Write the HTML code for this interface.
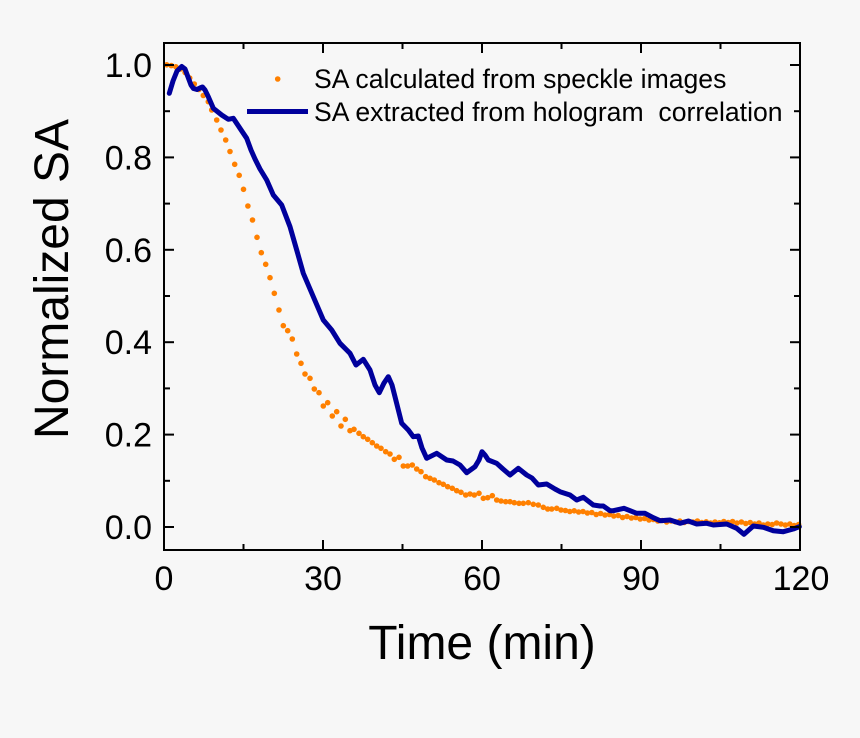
<!DOCTYPE html>
<html><head><meta charset="utf-8"><style>
html,body{margin:0;padding:0;background:#f7f7f7;}
svg{display:block;}
text{font-family:"Liberation Sans",Arial,sans-serif;fill:#000;}
</style></head><body>
<svg width="860" height="738" viewBox="0 0 860 738" xmlns="http://www.w3.org/2000/svg">
<rect x="0" y="0" width="860" height="738" fill="#f7f7f7"/>
<!-- orange dots -->
<g fill="#ff8000">
<circle cx="166.7" cy="64.8" r="2.8"/><circle cx="171.3" cy="65.6" r="2.8"/><circle cx="175.9" cy="66.8" r="2.8"/><circle cx="180.5" cy="69" r="2.8"/><circle cx="185.1" cy="72.5" r="2.8"/><circle cx="189.7" cy="78" r="2.8"/><circle cx="194.3" cy="84" r="2.8"/><circle cx="198.8" cy="89.5" r="2.8"/><circle cx="203.3" cy="95.5" r="2.8"/><circle cx="208.3" cy="101.7" r="2.8"/><circle cx="211.7" cy="110" r="2.8"/><circle cx="216.7" cy="120" r="2.8"/><circle cx="221" cy="130" r="2.8"/><circle cx="225.7" cy="140" r="2.8"/><circle cx="230" cy="151.5" r="2.8"/><circle cx="234.7" cy="164.3" r="2.8"/><circle cx="239.2" cy="175.3" r="2.8"/><circle cx="243.5" cy="189.3" r="2.8"/><circle cx="247.9" cy="206" r="2.8"/><circle cx="252.5" cy="220" r="2.8"/><circle cx="257" cy="237.3" r="2.8"/><circle cx="261.3" cy="252.7" r="2.8"/><circle cx="265.7" cy="264.3" r="2.8"/><circle cx="270" cy="277.7" r="2.8"/><circle cx="274.3" cy="293.3" r="2.8"/><circle cx="279" cy="310" r="2.8"/><circle cx="283.3" cy="325.7" r="2.8"/><circle cx="287.7" cy="330.7" r="2.8"/><circle cx="292.3" cy="339" r="2.8"/>
<circle cx="296.7" cy="354" r="2.8"/><circle cx="301" cy="363.3" r="2.8"/><circle cx="305" cy="374" r="2.8"/><circle cx="310" cy="378.3" r="2.8"/><circle cx="314.3" cy="389" r="2.8"/><circle cx="319" cy="392.7" r="2.8"/><circle cx="323.3" cy="406" r="2.8"/><circle cx="327.7" cy="402.7" r="2.8"/><circle cx="332.3" cy="416" r="2.8"/><circle cx="336.7" cy="411.7" r="2.8"/><circle cx="341" cy="426" r="2.8"/><circle cx="345.3" cy="419.3" r="2.8"/><circle cx="350" cy="430.7" r="2.8"/><circle cx="354" cy="429.3" r="2.8"/><circle cx="359" cy="433.3" r="2.8"/><circle cx="363.3" cy="436.7" r="2.8"/><circle cx="367.7" cy="439.3" r="2.8"/><circle cx="372.3" cy="442.7" r="2.8"/><circle cx="376.7" cy="446" r="2.8"/><circle cx="381" cy="448.3" r="2.8"/><circle cx="385.7" cy="451.7" r="2.8"/><circle cx="390" cy="454" r="2.8"/><circle cx="394.3" cy="459.3" r="2.8"/><circle cx="399" cy="457.3" r="2.8"/><circle cx="403.3" cy="466" r="2.8"/><circle cx="407.7" cy="466" r="2.8"/><circle cx="412.3" cy="465" r="2.8"/><circle cx="416.7" cy="469" r="2.8"/><circle cx="421" cy="471.7" r="2.8"/><circle cx="425.7" cy="476.7" r="2.8"/><circle cx="430" cy="478.3" r="2.8"/><circle cx="434.3" cy="480" r="2.8"/><circle cx="439" cy="482.7" r="2.8"/><circle cx="443.3" cy="484.3" r="2.8"/><circle cx="447.7" cy="486.7" r="2.8"/><circle cx="452.3" cy="488.3" r="2.8"/><circle cx="456.7" cy="490.7" r="2.8"/><circle cx="461" cy="492.3" r="2.8"/><circle cx="465.7" cy="495" r="2.8"/><circle cx="470" cy="494" r="2.8"/><circle cx="474.3" cy="495" r="2.8"/><circle cx="479" cy="493.3" r="2.8"/><circle cx="483.3" cy="498.3" r="2.8"/><circle cx="487.7" cy="497.7" r="2.8"/><circle cx="492.3" cy="495.7" r="2.8"/><circle cx="496.7" cy="500" r="2.8"/><circle cx="501" cy="501" r="2.8"/><circle cx="505.7" cy="501.7" r="2.8"/><circle cx="510" cy="501.7" r="2.8"/><circle cx="514.3" cy="502.7" r="2.8"/><circle cx="519" cy="503.3" r="2.8"/><circle cx="523.3" cy="503.3" r="2.8"/><circle cx="528.3" cy="502.7" r="2.8"/><circle cx="533.3" cy="504.3" r="2.8"/><circle cx="538.3" cy="505" r="2.8"/><circle cx="543.3" cy="507.3" r="2.8"/><circle cx="547.7" cy="509" r="2.8"/><circle cx="551.7" cy="509" r="2.8"/><circle cx="556.7" cy="508.3" r="2.8"/>
<circle cx="561" cy="510" r="2.8"/><circle cx="565.4" cy="510.5" r="2.8"/><circle cx="569.8" cy="511.5" r="2.8"/><circle cx="574.2" cy="510.8" r="2.8"/><circle cx="578.6" cy="512" r="2.8"/><circle cx="583" cy="511.5" r="2.8"/><circle cx="587.4" cy="513" r="2.8"/><circle cx="591.8" cy="512.5" r="2.8"/><circle cx="596.2" cy="514.5" r="2.8"/><circle cx="600.6" cy="513.5" r="2.8"/><circle cx="605" cy="515" r="2.8"/><circle cx="609.4" cy="514.5" r="2.8"/><circle cx="613.8" cy="516" r="2.8"/><circle cx="618.2" cy="515.5" r="2.8"/><circle cx="622.6" cy="517.5" r="2.8"/><circle cx="627" cy="516.5" r="2.8"/><circle cx="631.4" cy="518" r="2.8"/><circle cx="635.8" cy="517.5" r="2.8"/><circle cx="640.2" cy="519" r="2.8"/><circle cx="644.6" cy="518.5" r="2.8"/><circle cx="649" cy="520" r="2.8"/><circle cx="653.4" cy="519.5" r="2.8"/><circle cx="657.8" cy="521" r="2.8"/><circle cx="662.2" cy="520.5" r="2.8"/><circle cx="666.6" cy="522" r="2.8"/><circle cx="671" cy="521" r="2.8"/><circle cx="675.4" cy="521.8" r="2.8"/><circle cx="679.8" cy="521" r="2.8"/><circle cx="684.2" cy="522.5" r="2.8"/><circle cx="688.6" cy="521.5" r="2.8"/><circle cx="693" cy="522" r="2.8"/><circle cx="697.4" cy="521" r="2.8"/><circle cx="701.8" cy="522.5" r="2.8"/><circle cx="706.2" cy="521.8" r="2.8"/><circle cx="710.6" cy="523" r="2.8"/><circle cx="715" cy="522" r="2.8"/><circle cx="719.4" cy="522.8" r="2.8"/><circle cx="723.8" cy="521.5" r="2.8"/><circle cx="728.2" cy="522.5" r="2.8"/><circle cx="732.6" cy="521.5" r="2.8"/><circle cx="737" cy="523" r="2.8"/><circle cx="741.4" cy="522" r="2.8"/><circle cx="745.8" cy="523.5" r="2.8"/><circle cx="750.2" cy="522.5" r="2.8"/><circle cx="754.6" cy="524" r="2.8"/><circle cx="759" cy="523" r="2.8"/><circle cx="763.4" cy="525" r="2.8"/><circle cx="767.8" cy="524" r="2.8"/><circle cx="772.2" cy="524.5" r="2.8"/><circle cx="776.6" cy="523" r="2.8"/><circle cx="781" cy="524" r="2.8"/><circle cx="785.4" cy="525" r="2.8"/><circle cx="789.8" cy="524" r="2.8"/><circle cx="794.2" cy="525.5" r="2.8"/><circle cx="798.6" cy="524.5" r="2.8"/>
</g>
<!-- blue line -->
<polyline fill="none" stroke="#00009c" stroke-width="5" stroke-linejoin="round" stroke-linecap="round" points="169.3,93.3 173,81 177,71 181.7,66.5 185,69 188,77 191,85 193.5,88.5 197,89.5 200,88 202.5,87 205,90 208.3,96.7 213.3,108.3 221.7,115 228.3,119.3 233.3,118.3 240,128.3 246.7,138.3 251,150 255,159 260,169 266.7,180 273.3,195 281.7,205 290,226.7 296.7,250 303.3,273.3 313.3,296.7 323.3,320 331.7,330 340,343.3 346.7,350 350,353.3 356,365 363.3,359.3 370,370 375,385 379.3,392.7 384,383 388.3,376.7 392,385 395,396.7 401.7,423.3 408.3,430 413.3,436.7 418.3,436 422,448 426.7,458.3 436.7,453.3 446.7,460 453,461 460,465 466.7,472.7 475,466.7 479,460 482,451.7 485,455 488.3,460 496.7,463.3 503,469 510,475 518.3,468.3 526.7,475 532,478 538.3,485 546.7,484 555,489 560,491.7 570,495 576.7,500 583.3,497.3 593.3,505 600,506 603.3,506 610,510.7 613.3,510.7 624,508.3 636.7,513.3 645,513.3 653.3,517.7 660,520.7 670,520 680,523.3 688.3,521 696.7,524 706.7,523.3 713.3,525 726.7,524 736.7,528.3 744,534.3 753.3,526 763.3,527.3 773.3,530.7 783.3,531.7 793.3,529 799.3,526.7"/>
<!-- frame -->
<rect x="164" y="43" width="636" height="507" fill="none" stroke="#000" stroke-width="2"/>
<g stroke="#000" stroke-width="2">
<line x1="164" y1="527" x2="174" y2="527"/><line x1="164" y1="434.6" x2="174" y2="434.6"/><line x1="164" y1="342.2" x2="174" y2="342.2"/><line x1="164" y1="249.8" x2="174" y2="249.8"/><line x1="164" y1="157.4" x2="174" y2="157.4"/><line x1="164" y1="65" x2="174" y2="65"/>
<line x1="164" y1="480.8" x2="170" y2="480.8"/><line x1="164" y1="388.4" x2="170" y2="388.4"/><line x1="164" y1="296" x2="170" y2="296"/><line x1="164" y1="203.6" x2="170" y2="203.6"/><line x1="164" y1="111.2" x2="170" y2="111.2"/>
<line x1="800" y1="527" x2="790" y2="527"/><line x1="800" y1="434.6" x2="790" y2="434.6"/><line x1="800" y1="342.2" x2="790" y2="342.2"/><line x1="800" y1="249.8" x2="790" y2="249.8"/><line x1="800" y1="157.4" x2="790" y2="157.4"/><line x1="800" y1="65" x2="790" y2="65"/>
<line x1="800" y1="480.8" x2="794" y2="480.8"/><line x1="800" y1="388.4" x2="794" y2="388.4"/><line x1="800" y1="296" x2="794" y2="296"/><line x1="800" y1="203.6" x2="794" y2="203.6"/><line x1="800" y1="111.2" x2="794" y2="111.2"/>
<line x1="323" y1="550" x2="323" y2="540"/><line x1="482" y1="550" x2="482" y2="540"/><line x1="641" y1="550" x2="641" y2="540"/>
<line x1="243.5" y1="550" x2="243.5" y2="544"/><line x1="402.5" y1="550" x2="402.5" y2="544"/><line x1="561.5" y1="550" x2="561.5" y2="544"/><line x1="720.5" y1="550" x2="720.5" y2="544"/>
<line x1="323" y1="43" x2="323" y2="53"/><line x1="482" y1="43" x2="482" y2="53"/><line x1="641" y1="43" x2="641" y2="53"/>
<line x1="243.5" y1="43" x2="243.5" y2="49"/><line x1="402.5" y1="43" x2="402.5" y2="49"/><line x1="561.5" y1="43" x2="561.5" y2="49"/><line x1="720.5" y1="43" x2="720.5" y2="49"/>
</g>
<g font-size="34" text-anchor="end">
<text x="152" y="539">0.0</text>
<text x="152" y="446.6">0.2</text>
<text x="152" y="354.2">0.4</text>
<text x="152" y="261.8">0.6</text>
<text x="152" y="169.4">0.8</text>
<text x="152" y="77">1.0</text>
</g>
<g font-size="34" text-anchor="middle">
<text x="164" y="590">0</text>
<text x="323" y="590">30</text>
<text x="482" y="590">60</text>
<text x="641" y="590">90</text>
<text x="801" y="590">120</text>
</g>
<text x="482" y="659" font-size="48" text-anchor="middle">Time (min)</text>
<text transform="translate(68,279) rotate(-90)" font-size="48" text-anchor="middle">Normalized SA</text>
<circle cx="277.7" cy="79" r="2.8" fill="#ff8000"/>
<line x1="247" y1="111.5" x2="308" y2="111.5" stroke="#00009c" stroke-width="5"/>
<text x="314" y="88" font-size="26.6" xml:space="preserve">SA calculated from speckle images</text>
<text x="314" y="121" font-size="26.6" xml:space="preserve" style="white-space:pre">SA extracted from hologram  correlation</text>
</svg>
</body></html>
